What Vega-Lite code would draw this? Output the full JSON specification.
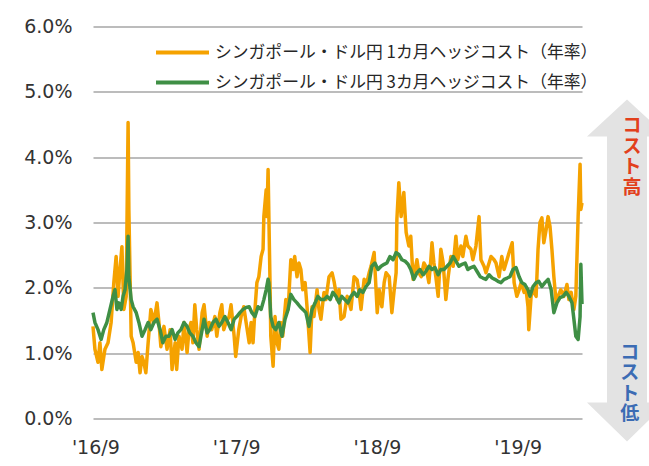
{
  "$schema": "https://vega.github.io/schema/vega-lite/v6.json",
  "autosize": {"type": "pad"},
  "padding": {"left": 23, "top": 17.5, "right": 0, "bottom": 5},
  "background": "white",
  "bounds": "flush",
  "spacing": 5,
  "config": {"view": {"stroke": null}, "font": "DejaVu Sans"},
  "datasets": {
    "m1": [
      {"date":"2016-08-26","rate":1.41},{"date":"2016-08-31","rate":1.06},{"date":"2016-09-08","rate":0.86},{"date":"2016-09-13","rate":1.16},{"date":"2016-09-18","rate":0.75},{"date":"2016-09-26","rate":1.06},{"date":"2016-10-04","rate":1.16},{"date":"2016-10-12","rate":1.47},{"date":"2016-10-19","rate":2.08},{"date":"2016-10-25","rate":2.48},{"date":"2016-10-30","rate":1.87},{"date":"2016-11-04","rate":2.28},{"date":"2016-11-09","rate":2.63},{"date":"2016-11-14","rate":1.67},{"date":"2016-11-20","rate":1.87},{"date":"2016-11-25","rate":4.53},{"date":"2016-11-27","rate":3.2},{"date":"2016-12-03","rate":1.26},{"date":"2016-12-08","rate":1.16},{"date":"2016-12-16","rate":0.86},{"date":"2016-12-21","rate":1.01},{"date":"2016-12-26","rate":0.70},{"date":"2016-12-31","rate":0.95},
      {"date":"2017-01-05","rate":0.86},{"date":"2017-01-10","rate":0.70},{"date":"2017-01-16","rate":1.16},{"date":"2017-01-23","rate":1.67},{"date":"2017-01-31","rate":1.47},{"date":"2017-02-08","rate":1.77},{"date":"2017-02-13","rate":1.47},{"date":"2017-02-18","rate":1.10},{"date":"2017-02-26","rate":1.41},{"date":"2017-03-06","rate":1.06},{"date":"2017-03-14","rate":1.36},{"date":"2017-03-19","rate":0.75},{"date":"2017-03-27","rate":1.16},{"date":"2017-03-31","rate":0.75},{"date":"2017-04-06","rate":1.26},{"date":"2017-04-14","rate":1.06},{"date":"2017-04-19","rate":1.47},{"date":"2017-04-27","rate":1.01},{"date":"2017-05-02","rate":1.36},{"date":"2017-05-07","rate":1.47},{"date":"2017-05-12","rate":1.16},{"date":"2017-05-17","rate":1.74},{"date":"2017-05-22","rate":1.36},{"date":"2017-05-28","rate":1.06},{"date":"2017-06-05","rate":1.62},{"date":"2017-06-10","rate":1.74},{"date":"2017-06-18","rate":1.26},{"date":"2017-06-23","rate":1.47},{"date":"2017-06-30","rate":1.36},{"date":"2017-07-08","rate":1.56},{"date":"2017-07-13","rate":1.26},{"date":"2017-07-21","rate":1.62},{"date":"2017-07-26","rate":1.74},{"date":"2017-07-31","rate":1.36},{"date":"2017-08-06","rate":1.47},{"date":"2017-08-14","rate":1.56},{"date":"2017-08-19","rate":1.74},{"date":"2017-08-27","rate":1.26},{"date":"2017-08-31","rate":0.95},{"date":"2017-09-08","rate":1.36},{"date":"2017-09-14","rate":1.56},{"date":"2017-09-21","rate":1.71},{"date":"2017-09-27","rate":1.47},{"date":"2017-10-05","rate":1.16},{"date":"2017-10-10","rate":1.47},{"date":"2017-10-15","rate":1.16},{"date":"2017-10-20","rate":1.67},{"date":"2017-10-25","rate":2.08},{"date":"2017-10-30","rate":2.17},{"date":"2017-11-05","rate":2.48},{"date":"2017-11-10","rate":2.59},{"date":"2017-11-12","rate":3.09},{"date":"2017-11-18","rate":3.5},{"date":"2017-11-20","rate":3.09},{"date":"2017-11-23","rate":3.81},{"date":"2017-11-28","rate":2.08},{"date":"2017-11-30","rate":1.26},{"date":"2017-12-06","rate":0.8},{"date":"2017-12-11","rate":1.56},{"date":"2017-12-16","rate":1.16},{"date":"2017-12-21","rate":1.06},{"date":"2017-12-26","rate":1.47},{"date":"2017-12-31","rate":1.26},
      {"date":"2018-01-08","rate":1.82},{"date":"2018-01-14","rate":1.67},{"date":"2018-01-21","rate":2.43},{"date":"2018-01-27","rate":2.28},{"date":"2018-01-31","rate":2.48},{"date":"2018-02-06","rate":2.17},{"date":"2018-02-11","rate":2.38},{"date":"2018-02-16","rate":2.28},{"date":"2018-02-21","rate":1.97},{"date":"2018-02-27","rate":2.08},{"date":"2018-03-04","rate":1.71},{"date":"2018-03-12","rate":1.01},{"date":"2018-03-17","rate":1.71},{"date":"2018-03-22","rate":1.56},{"date":"2018-03-30","rate":1.97},{"date":"2018-04-04","rate":1.67},{"date":"2018-04-09","rate":1.52},{"date":"2018-04-17","rate":1.93},{"date":"2018-04-22","rate":1.82},{"date":"2018-04-30","rate":2.17},{"date":"2018-05-08","rate":2.23},{"date":"2018-05-13","rate":2.1},{"date":"2018-05-21","rate":1.82},{"date":"2018-05-26","rate":1.97},{"date":"2018-05-31","rate":1.52},{"date":"2018-06-08","rate":1.56},{"date":"2018-06-16","rate":1.87},{"date":"2018-06-21","rate":1.77},{"date":"2018-06-26","rate":1.67},{"date":"2018-07-04","rate":2.17},{"date":"2018-07-12","rate":2.12},{"date":"2018-07-17","rate":1.93},{"date":"2018-07-22","rate":1.67},{"date":"2018-07-30","rate":2.13},{"date":"2018-08-06","rate":2.08},{"date":"2018-08-12","rate":2.23},{"date":"2018-08-17","rate":2.33},{"date":"2018-08-25","rate":2.54},{"date":"2018-09-02","rate":1.62},{"date":"2018-09-07","rate":1.97},{"date":"2018-09-14","rate":1.71},{"date":"2018-09-20","rate":2.08},{"date":"2018-09-25","rate":2.23},{"date":"2018-10-03","rate":2.17},{"date":"2018-10-10","rate":1.62},{"date":"2018-10-16","rate":1.97},{"date":"2018-10-21","rate":2.23},{"date":"2018-10-23","rate":3.05},{"date":"2018-10-28","rate":3.61},{"date":"2018-11-03","rate":3.09},{"date":"2018-11-05","rate":3.2},{"date":"2018-11-10","rate":3.46},{"date":"2018-11-16","rate":2.85},{"date":"2018-11-23","rate":2.64},{"date":"2018-11-28","rate":2.79},{"date":"2018-12-04","rate":2.13},{"date":"2018-12-09","rate":2.28},{"date":"2018-12-14","rate":2.43},{"date":"2018-12-19","rate":2.23},{"date":"2018-12-25","rate":2.17},
      {"date":"2019-01-01","rate":2.38},{"date":"2019-01-06","rate":2.33},{"date":"2019-01-14","rate":2.08},{"date":"2019-01-19","rate":2.43},{"date":"2019-01-22","rate":2.69},{"date":"2019-01-27","rate":2.38},{"date":"2019-02-01","rate":2.17},{"date":"2019-02-07","rate":1.87},{"date":"2019-02-14","rate":2.59},{"date":"2019-02-20","rate":2.38},{"date":"2019-02-27","rate":1.82},{"date":"2019-03-05","rate":2.17},{"date":"2019-03-12","rate":2.48},{"date":"2019-03-18","rate":2.33},{"date":"2019-03-25","rate":2.79},{"date":"2019-03-30","rate":2.43},{"date":"2019-04-07","rate":2.64},{"date":"2019-04-12","rate":2.48},{"date":"2019-04-20","rate":2.79},{"date":"2019-04-25","rate":2.64},{"date":"2019-05-03","rate":2.59},{"date":"2019-05-08","rate":2.43},{"date":"2019-05-16","rate":2.64},{"date":"2019-05-24","rate":3.09},{"date":"2019-05-29","rate":2.43},{"date":"2019-06-06","rate":2.33},{"date":"2019-06-11","rate":2.23},{"date":"2019-06-19","rate":2.38},{"date":"2019-06-24","rate":2.48},{"date":"2019-07-02","rate":2.43},{"date":"2019-07-07","rate":2.38},{"date":"2019-07-15","rate":2.17},{"date":"2019-07-22","rate":2.48},{"date":"2019-07-28","rate":2.28},{"date":"2019-08-02","rate":2.38},{"date":"2019-08-10","rate":2.54},{"date":"2019-08-18","rate":2.69},{"date":"2019-08-23","rate":2.08},{"date":"2019-08-30","rate":1.87},{"date":"2019-09-05","rate":1.97},{"date":"2019-09-10","rate":2.08},{"date":"2019-09-18","rate":1.93},{"date":"2019-09-23","rate":1.97},{"date":"2019-09-28","rate":1.71},{"date":"2019-09-30","rate":1.36},{"date":"2019-10-06","rate":1.87},{"date":"2019-10-11","rate":1.97},{"date":"2019-10-19","rate":1.87},{"date":"2019-10-24","rate":2.59},{"date":"2019-10-29","rate":3.0},{"date":"2019-11-03","rate":3.07},{"date":"2019-11-08","rate":2.69},{"date":"2019-11-14","rate":2.89},{"date":"2019-11-19","rate":3.09},{"date":"2019-11-24","rate":2.94},{"date":"2019-11-29","rate":2.59},{"date":"2019-12-04","rate":2.17},{"date":"2019-12-10","rate":1.77},{"date":"2019-12-15","rate":1.87},{"date":"2019-12-22","rate":1.97},{"date":"2019-12-30","rate":1.87},
      {"date":"2020-01-07","rate":2.05},{"date":"2020-01-12","rate":1.82},{"date":"2020-01-18","rate":1.93},{"date":"2020-01-23","rate":1.71},{"date":"2020-01-25","rate":1.67},{"date":"2020-01-30","rate":1.87},{"date":"2020-02-05","rate":3.09},{"date":"2020-02-10","rate":3.89},{"date":"2020-02-12","rate":3.2},{"date":"2020-02-15","rate":3.3}
    ],
    "m3": [
      {"date":"2016-08-26","rate":1.62},{"date":"2016-08-31","rate":1.47},{"date":"2016-09-08","rate":1.36},{"date":"2016-09-16","rate":1.21},{"date":"2016-09-23","rate":1.36},{"date":"2016-10-01","rate":1.47},{"date":"2016-10-09","rate":1.67},{"date":"2016-10-17","rate":1.87},{"date":"2016-10-22","rate":1.97},{"date":"2016-10-27","rate":1.67},{"date":"2016-11-01","rate":1.77},{"date":"2016-11-07","rate":1.67},{"date":"2016-11-12","rate":1.87},{"date":"2016-11-17","rate":1.97},{"date":"2016-11-22","rate":2.28},{"date":"2016-11-25","rate":2.79},{"date":"2016-11-27","rate":2.17},{"date":"2016-12-03","rate":1.82},{"date":"2016-12-08","rate":1.71},{"date":"2016-12-16","rate":1.62},{"date":"2016-12-23","rate":1.47},{"date":"2016-12-31","rate":1.26},
      {"date":"2017-01-08","rate":1.36},{"date":"2017-01-16","rate":1.47},{"date":"2017-01-23","rate":1.36},{"date":"2017-01-31","rate":1.47},{"date":"2017-02-08","rate":1.52},{"date":"2017-02-16","rate":1.36},{"date":"2017-02-23","rate":1.16},{"date":"2017-03-03","rate":1.26},{"date":"2017-03-11","rate":1.26},{"date":"2017-03-19","rate":1.36},{"date":"2017-03-27","rate":1.21},{"date":"2017-04-03","rate":1.31},{"date":"2017-04-11","rate":1.36},{"date":"2017-04-19","rate":1.47},{"date":"2017-04-27","rate":1.41},{"date":"2017-05-04","rate":1.31},{"date":"2017-05-12","rate":1.26},{"date":"2017-05-20","rate":1.16},{"date":"2017-05-28","rate":1.10},{"date":"2017-06-05","rate":1.36},{"date":"2017-06-10","rate":1.52},{"date":"2017-06-18","rate":1.31},{"date":"2017-06-25","rate":1.36},{"date":"2017-07-03","rate":1.47},{"date":"2017-07-11","rate":1.52},{"date":"2017-07-19","rate":1.41},{"date":"2017-07-26","rate":1.47},{"date":"2017-08-03","rate":1.56},{"date":"2017-08-11","rate":1.47},{"date":"2017-08-19","rate":1.36},{"date":"2017-08-27","rate":1.52},{"date":"2017-09-03","rate":1.56},{"date":"2017-09-11","rate":1.62},{"date":"2017-09-19","rate":1.67},{"date":"2017-09-27","rate":1.70},{"date":"2017-10-05","rate":1.71},{"date":"2017-10-12","rate":1.62},{"date":"2017-10-20","rate":1.56},{"date":"2017-10-28","rate":1.71},{"date":"2017-11-05","rate":1.67},{"date":"2017-11-12","rate":1.82},{"date":"2017-11-18","rate":1.97},{"date":"2017-11-23","rate":2.13},{"date":"2017-11-25","rate":2.08},{"date":"2017-11-30","rate":1.56},{"date":"2017-12-06","rate":1.41},{"date":"2017-12-13","rate":1.36},{"date":"2017-12-21","rate":1.47},{"date":"2017-12-29","rate":1.26},
      {"date":"2018-01-06","rate":1.52},{"date":"2018-01-14","rate":1.67},{"date":"2018-01-21","rate":1.90},{"date":"2018-01-29","rate":1.82},{"date":"2018-02-06","rate":1.77},{"date":"2018-02-14","rate":1.71},{"date":"2018-02-21","rate":1.67},{"date":"2018-03-01","rate":1.62},{"date":"2018-03-09","rate":1.41},{"date":"2018-03-17","rate":1.67},{"date":"2018-03-25","rate":1.77},{"date":"2018-04-01","rate":1.87},{"date":"2018-04-09","rate":1.82},{"date":"2018-04-17","rate":1.82},{"date":"2018-04-25","rate":1.87},{"date":"2018-05-03","rate":1.82},{"date":"2018-05-10","rate":1.93},{"date":"2018-05-18","rate":1.87},{"date":"2018-05-26","rate":1.77},{"date":"2018-06-02","rate":1.87},{"date":"2018-06-10","rate":1.82},{"date":"2018-06-18","rate":1.77},{"date":"2018-06-26","rate":1.87},{"date":"2018-07-04","rate":1.93},{"date":"2018-07-12","rate":1.87},{"date":"2018-07-19","rate":1.97},{"date":"2018-07-27","rate":1.93},{"date":"2018-08-04","rate":2.02},{"date":"2018-08-12","rate":2.08},{"date":"2018-08-19","rate":2.33},{"date":"2018-08-27","rate":2.38},{"date":"2018-09-04","rate":2.28},{"date":"2018-09-12","rate":2.33},{"date":"2018-09-20","rate":2.36},{"date":"2018-09-27","rate":2.38},{"date":"2018-10-05","rate":2.48},{"date":"2018-10-13","rate":2.43},{"date":"2018-10-21","rate":2.54},{"date":"2018-10-28","rate":2.51},{"date":"2018-11-05","rate":2.43},{"date":"2018-11-13","rate":2.41},{"date":"2018-11-21","rate":2.36},{"date":"2018-11-28","rate":2.28},{"date":"2018-12-06","rate":2.13},{"date":"2018-12-14","rate":2.23},{"date":"2018-12-22","rate":2.28},{"date":"2018-12-30","rate":2.20},
      {"date":"2019-01-06","rate":2.25},{"date":"2019-01-14","rate":2.33},{"date":"2019-01-22","rate":2.28},{"date":"2019-01-30","rate":2.31},{"date":"2019-02-07","rate":2.20},{"date":"2019-02-14","rate":2.28},{"date":"2019-02-22","rate":2.28},{"date":"2019-03-02","rate":2.33},{"date":"2019-03-10","rate":2.38},{"date":"2019-03-18","rate":2.48},{"date":"2019-03-25","rate":2.41},{"date":"2019-04-02","rate":2.33},{"date":"2019-04-10","rate":2.36},{"date":"2019-04-18","rate":2.38},{"date":"2019-04-25","rate":2.28},{"date":"2019-05-03","rate":2.31},{"date":"2019-05-11","rate":2.33},{"date":"2019-05-19","rate":2.25},{"date":"2019-05-27","rate":2.17},{"date":"2019-06-03","rate":2.15},{"date":"2019-06-11","rate":2.13},{"date":"2019-06-19","rate":2.20},{"date":"2019-06-27","rate":2.15},{"date":"2019-07-04","rate":2.13},{"date":"2019-07-12","rate":2.10},{"date":"2019-07-20","rate":2.08},{"date":"2019-07-28","rate":2.13},{"date":"2019-08-05","rate":2.15},{"date":"2019-08-12","rate":2.17},{"date":"2019-08-20","rate":2.28},{"date":"2019-08-28","rate":2.31},{"date":"2019-09-05","rate":2.17},{"date":"2019-09-12","rate":2.08},{"date":"2019-09-20","rate":2.05},{"date":"2019-09-28","rate":1.97},{"date":"2019-10-03","rate":1.87},{"date":"2019-10-11","rate":2.02},{"date":"2019-10-19","rate":2.08},{"date":"2019-10-26","rate":2.10},{"date":"2019-11-03","rate":2.02},{"date":"2019-11-11","rate":2.08},{"date":"2019-11-19","rate":2.13},{"date":"2019-11-27","rate":1.97},{"date":"2019-12-04","rate":1.62},{"date":"2019-12-12","rate":1.77},{"date":"2019-12-20","rate":1.85},{"date":"2019-12-28","rate":1.87},
      {"date":"2020-01-05","rate":1.93},{"date":"2020-01-12","rate":1.87},{"date":"2020-01-20","rate":1.77},{"date":"2020-01-25","rate":1.52},{"date":"2020-01-30","rate":1.26},{"date":"2020-02-05","rate":1.21},{"date":"2020-02-10","rate":1.56},{"date":"2020-02-12","rate":2.36},{"date":"2020-02-15","rate":1.75}
    ]
  },
  "hconcat": [
    {
      "width": 489,
      "height": 392,
      "encoding": {
        "x": {
          "field": "date", "type": "temporal",
          "scale": {"type": "utc", "domain": [{"year": 2016, "month": 8, "date": 26, "utc": true}, {"year": 2020, "month": 2, "date": 15, "utc": true}]},
          "axis": {
            "title": null, "grid": false, "ticks": false, "tickSize": 0, "domain": false,
            "values": [{"year": 2016, "month": 9, "date": 1, "utc": true}, {"year": 2017, "month": 9, "date": 1, "utc": true}, {"year": 2018, "month": 9, "date": 1, "utc": true}, {"year": 2019, "month": 9, "date": 1, "utc": true}],
            "labelExpr": "\"'\" + utcFormat(datum.value, '%y/%-m')",
            "labelFont": "DejaVu Sans", "labelFontSize": 19, "labelColor": "#333333",
            "labelPadding": 20, "labelFlush": false, "labelOverlap": false
          }
        },
        "y": {
          "field": "rate", "type": "quantitative",
          "scale": {"domain": [0, 6], "nice": false},
          "axis": {
            "title": null, "values": [0, 1, 2, 3, 4, 5, 6], "ticks": false, "tickSize": 0, "domain": false,
            "labelExpr": "format(datum.value, '.1f') + '%'",
            "labelFont": "DejaVu Sans", "labelFontSize": 19, "labelColor": "#333333", "labelPadding": 21,
            "gridColor": "#a6a6a6", "gridWidth": 1.3
          }
        }
      },
      "layer": [
        {
          "data": {"name": "m1"},
          "mark": {"type": "line", "strokeWidth": 3.5, "strokeJoin": "round"},
          "encoding": {
            "color": {
              "datum": "シンガポール・ドル円 1カ月ヘッジコスト（年率）", "type": "nominal",
              "scale": {"domain": ["シンガポール・ドル円 1カ月ヘッジコスト（年率）", "シンガポール・ドル円 3カ月ヘッジコスト（年率）"], "range": ["#f5a200", "#3f8f45"]},
              "legend": {
                "orient": "none", "legendX": 61, "legendY": 11, "title": null,
                "symbolType": "stroke", "symbolSize": 2809, "symbolStrokeWidth": 4,
                "clipHeight": 30, "rowPadding": 0, "labelOffset": 4,
                "labelFont": "Noto Sans CJK JP", "labelFontSize": 16.8, "labelColor": "#262626", "labelLimit": 600
              }
            }
          }
        },
        {
          "data": {"name": "m3"},
          "mark": {"type": "line", "strokeWidth": 3.5, "strokeJoin": "round"},
          "encoding": {
            "color": {"datum": "シンガポール・ドル円 3カ月ヘッジコスト（年率）", "type": "nominal"}
          }
        }
      ]
    },
    {
      "width": 63,
      "height": 392,
      "encoding": {
        "x": {"field": "pos", "type": "quantitative", "scale": {"domain": [0, 1]}, "axis": null},
        "y": {"field": "level", "type": "quantitative", "scale": {"domain": [0, 6], "nice": false}, "axis": null}
      },
      "layer": [
        {
          "data": {"values": [{"pos": 0.635, "level": 2.265}]},
          "mark": {
            "type": "point", "filled": true, "color": "#e3e3e3", "opacity": 1, "strokeWidth": 0, "size": 116964,
            "shape": "M0,-1L0.234,-0.784L0.117,-0.784L0.117,0.772L0.234,0.772L0,1L-0.234,0.772L-0.117,0.772L-0.117,-0.784L-0.234,-0.784Z"
          }
        },
        {
          "data": {"values": [{"label": "コ\nス\nト\n高", "pos": 0.714, "level": 4.47}]},
          "mark": {"type": "text", "lineBreak": "\n", "font": "Noto Sans CJK JP", "fontSize": 19, "fontWeight": "bold", "lineHeight": 20.5, "align": "center", "baseline": "middle", "color": "#e2401c"},
          "encoding": {"text": {"field": "label"}}
        },
        {
          "data": {"values": [{"label": "コ\nス\nト\n低", "pos": 0.68, "level": 1.01}]},
          "mark": {"type": "text", "lineBreak": "\n", "font": "Noto Sans CJK JP", "fontSize": 19, "fontWeight": "bold", "lineHeight": 20.5, "align": "center", "baseline": "middle", "color": "#3c6cb4"},
          "encoding": {"text": {"field": "label"}}
        }
      ]
    }
  ]
}
